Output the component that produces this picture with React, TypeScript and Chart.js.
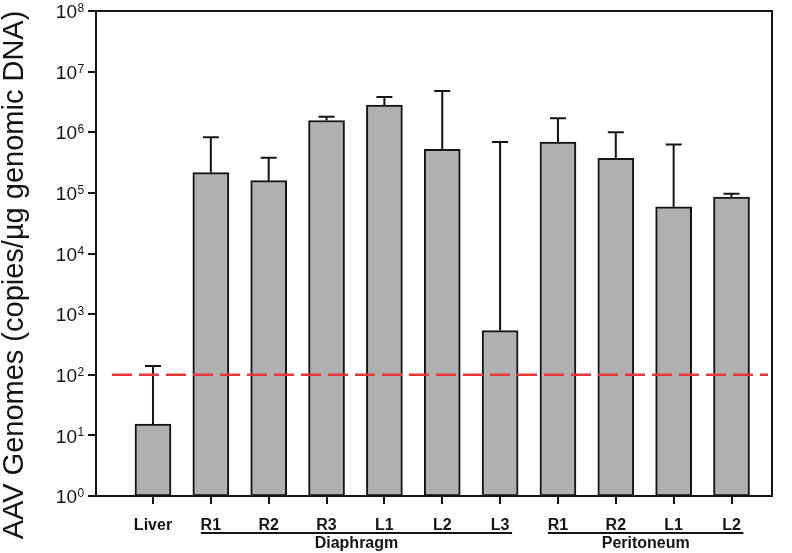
import React, { useEffect, useRef } from "react";
import { Chart, registerables } from "chart.js";

Chart.register(...registerables);

const categories = ["Liver", "R1", "R2", "R3", "L1", "L2", "L3", "R1", "R2", "L1", "L2"];
const means = [15.4, 2.16e5, 1.59e5, 1.56e6, 2.8e6, 5.25e5, 535, 6.9e5, 3.7e5, 5.9e4, 8.5e4];
const upperErr = [140, 8.3e5, 3.8e5, 1.8e6, 3.8e6, 4.8e6, 6.9e5, 1.7e6, 1.0e6, 6.3e5, 9.7e4];
const yExponents = [0, 1, 2, 3, 4, 5, 6, 7, 8];
const groupLabels = ["Diaphragm", "Peritoneum"];
const groupStart = [1, 7];
const groupEnd = [6, 10];
const threshold = 100;
const yTitle = "AAV Genomes (copies/µg genomic DNA)";

const FONT = "'Liberation Sans', Arial, sans-serif";
const INK = "#141414";

const customPlugin = {
  id: "custom",
  afterDatasetsDraw(chart: any) {
    const { ctx, chartArea, scales } = chart;
    const xs = scales.x;
    const ys = scales.y;
    ctx.save();
    ctx.strokeStyle = INK;
    ctx.lineWidth = 2;
    means.forEach((m, i) => {
      const x = xs.getPixelForValue(i);
      const y0 = ys.getPixelForValue(m);
      const y1 = ys.getPixelForValue(upperErr[i]);
      ctx.beginPath();
      ctx.moveTo(x, y0);
      ctx.lineTo(x, y1);
      ctx.moveTo(x - 8, y1);
      ctx.lineTo(x + 8, y1);
      ctx.stroke();
    });
    const yt = ys.getPixelForValue(threshold);
    ctx.strokeStyle = "#e8383d";
    ctx.lineWidth = 2.5;
    ctx.setLineDash([20, 7]);
    ctx.beginPath();
    ctx.moveTo(chartArea.left + 16, yt);
    ctx.lineTo(chartArea.right - 4, yt);
    ctx.stroke();
    ctx.setLineDash([]);
    ctx.restore();
  },
  afterDraw(chart: any) {
    const { ctx, chartArea, scales } = chart;
    const xs = scales.x;
    const ys = scales.y;
    ctx.save();
    ctx.strokeStyle = INK;
    ctx.lineWidth = 2;
    ctx.beginPath();
    ctx.moveTo(chartArea.left - 8, chartArea.top);
    ctx.lineTo(chartArea.right, chartArea.top);
    ctx.lineTo(chartArea.right, chartArea.bottom);
    ctx.stroke();
    ctx.fillStyle = INK;
    yExponents.forEach((e) => {
      const y = ys.getPixelForValue(Math.pow(10, e));
      ctx.font = `19px ${FONT}`;
      ctx.textAlign = "right";
      ctx.textBaseline = "middle";
      ctx.fillText("10", 77, y + 2);
      ctx.font = `12px ${FONT}`;
      ctx.textAlign = "left";
      ctx.textBaseline = "alphabetic";
      ctx.fillText(String(e), 77.5, y + 1);
    });
    ctx.save();
    ctx.translate(15, 275);
    ctx.rotate(-Math.PI / 2);
    ctx.font = `29px ${FONT}`;
    ctx.textAlign = "center";
    ctx.textBaseline = "middle";
    ctx.fillText(yTitle, 0, 0);
    ctx.restore();
    ctx.lineWidth = 2;
    groupLabels.forEach((g, k) => {
      const xa = xs.getPixelForValue(groupStart[k]) - 10;
      const xb = xs.getPixelForValue(groupEnd[k]) + 12;
      ctx.beginPath();
      ctx.moveTo(xa, 533);
      ctx.lineTo(xb, 533);
      ctx.stroke();
      ctx.font = `bold 16px ${FONT}`;
      ctx.textAlign = "center";
      ctx.textBaseline = "alphabetic";
      ctx.fillText(g, (xa + xb) / 2, 548);
    });
    ctx.restore();
  },
};

export default function App() {
  const ref = useRef<HTMLCanvasElement>(null);
  useEffect(() => {
    if (!ref.current) return;
    const chart = new Chart(ref.current, {
      type: "bar",
      data: {
        datasets: [
          {
            data: means.map((m, i) => ({ x: i, y: m })),
            backgroundColor: "#b0b0b0",
            borderColor: INK,
            borderWidth: 2,
            borderSkipped: false,
            barThickness: 36,
          },
        ],
      },
      options: {
        animation: false,
        responsive: true,
        maintainAspectRatio: false,
        layout: { padding: { left: 0, top: 11, right: 20, bottom: 0 } },
        plugins: { legend: { display: false }, tooltip: { enabled: false } },
        scales: {
          x: {
            type: "linear",
            offset: false,
            min: -0.985,
            max: 10.7,
            afterBuildTicks: (s: any) => {
              s.ticks = categories.map((_, i) => ({ value: i }));
            },
            afterFit: (s: any) => {
              s.height = 57;
            },
            border: { display: true, color: INK, width: 2 },
            grid: { offset: false, drawOnChartArea: false, drawTicks: true, tickLength: 8, color: INK, lineWidth: 2 },
            ticks: {
              autoSkip: false,
              maxRotation: 0,
              padding: 12,
              color: INK,
              font: { family: FONT, size: 16, weight: "bold" },
              callback: (v: any) => categories[v] ?? "",
            },
          },
          y: {
            type: "logarithmic",
            min: 1,
            max: 1e8,
            afterBuildTicks: (s: any) => {
              s.ticks = yExponents.map((e) => ({ value: Math.pow(10, e) }));
            },
            afterFit: (s: any) => {
              s.width = 96;
            },
            border: { display: true, color: INK, width: 2 },
            grid: { drawOnChartArea: false, drawTicks: true, tickLength: 8, color: INK, lineWidth: 2 },
            ticks: { display: false },
          },
        },
      },
      plugins: [customPlugin],
    });
    return () => chart.destroy();
  }, []);
  return (
    <div style={{ position: "fixed", left: 0, top: 0, width: 792, height: 553, background: "#fff" }}>
      <canvas ref={ref} />
    </div>
  );
}
